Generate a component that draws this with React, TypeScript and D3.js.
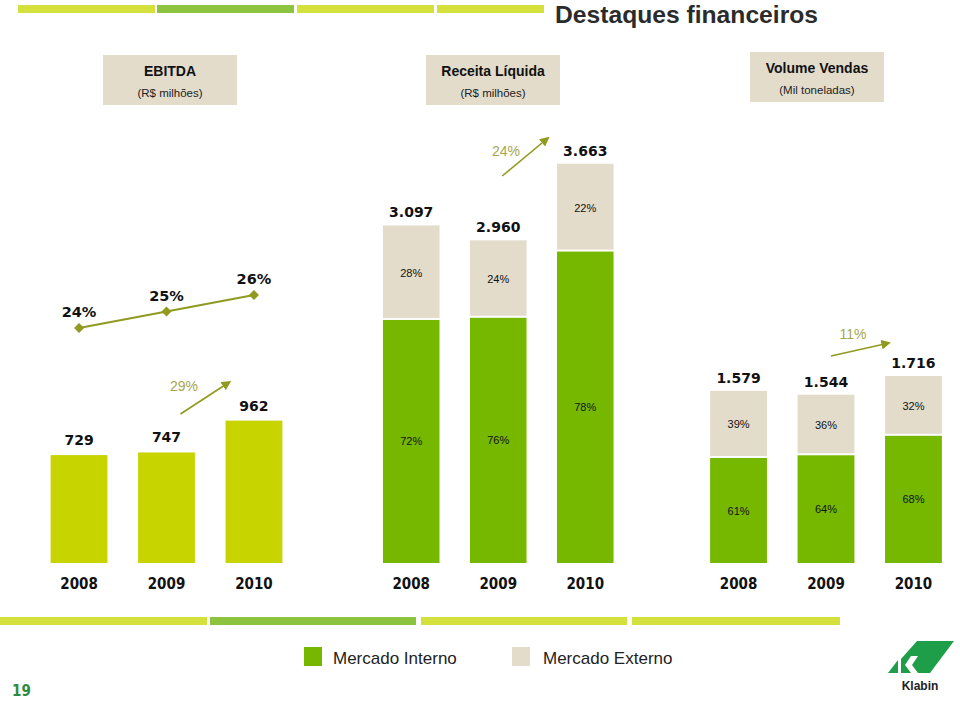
import React from "react";
import * as d3 from "d3";

const years = ["2008", "2009", "2010"];
const ebitdaValues = [729, 747, 962];
const ebitdaMargin = [24, 25, 26];
const receitaValues = [3097, 2960, 3663];
const receitaInternoPct = [72, 76, 78];
const volumeValues = [1579, 1544, 1716];
const volumeInternoPct = [61, 64, 68];
const growthLabels = ["29%", "24%", "11%"];
const panelTitles = ["EBITDA", "Receita Líquida", "Volume Vendas"];
const panelUnits = ["(R$ milhões)", "(R$ milhões)", "(Mil toneladas)"];
const legendLabels = ["Mercado Interno", "Mercado Externo"];
const titleText = "Destaques financeiros";
const pageNumber = "19";

const C_EBITDA = "#c8d400";
const C_INT = "#76b800";
const C_EXT = "#e3dccb";
const C_OLIVE = "#8f9a1f";
const C_GROWTH = "#a6a64e";
const C_BAR_LIGHT = "#d4e03c";
const C_BAR_DARK = "#8cc43f";

const ptBR = d3.formatLocale({ decimal: ",", thousands: ".", grouping: [3], currency: ["R$", ""] });
const fmt = ptBR.format(",d");

const BASE = 563;

export default function App() {
  const xE = d3.scaleBand<string>().domain(years).range([20, 313]).padding(0.35);
  const xR = d3.scaleBand<string>().domain(years).range([352.5, 644]).padding(0.35);
  const xV = d3.scaleBand<string>().domain(years).range([679.5, 972.5]).padding(0.35);
  const yE = d3.scaleLinear().domain([0, 1000]).range([BASE, BASE - 148]);
  const yRV = d3.scaleLinear().domain([0, 4000]).range([BASE, BASE - 436]);
  const yM = d3.scaleLinear().domain([20, 30]).range([394, 229]);

  const bw = xE.bandwidth();
  const cx = (s: d3.ScaleBand<string>, y: string) => (s(y) as number) + s.bandwidth() / 2;

  const marginLine = d3
    .line<number>()
    .x((_, i) => cx(xE, years[i]))
    .y((d) => yM(d));

  const stacked = (
    key: string,
    xs: d3.ScaleBand<string>,
    totals: number[],
    pcts: number[]
  ) =>
    years.map((yr, i) => {
      const total = totals[i];
      const intVal = (total * pcts[i]) / 100;
      const x = xs(yr) as number;
      const w = xs.bandwidth();
      const yTop = yRV(total);
      const ySplit = yRV(intVal);
      const c = x + w / 2;
      return (
        <g key={key + yr}>
          <rect x={x} y={ySplit} width={w} height={BASE - ySplit} fill={C_INT} />
          <rect x={x} y={yTop} width={w} height={ySplit - 2 - yTop} fill={C_EXT} />
          <text x={c} y={(ySplit + BASE) / 2 + 4} textAnchor="middle" fontFamily="Liberation Sans, Arial, sans-serif" fontSize={11} fill="#111">
            {pcts[i]}%
          </text>
          <text x={c} y={(yTop + ySplit) / 2 + 4} textAnchor="middle" fontFamily="Liberation Sans, Arial, sans-serif" fontSize={11} fill="#111">
            {100 - pcts[i]}%
          </text>
          <text x={c} y={yTop - 8} textAnchor="middle" fontFamily="DejaVu Sans, Verdana, sans-serif" fontWeight="bold" fontSize={14} fill="#111">
            {fmt(total)}
          </text>
        </g>
      );
    });

  const yearLabels = (key: string, xs: d3.ScaleBand<string>) =>
    years.map((yr) => (
      <text key={key + yr} x={cx(xs, yr)} y={589} textAnchor="middle" fontFamily="DejaVu Sans Condensed, DejaVu Sans, sans-serif" fontStretch="condensed" fontWeight="bold" fontSize={15} fill="#111">
        {yr}
      </text>
    ));

  const arrow = (x1: number, y1: number, x2: number, y2: number, id: string) => (
    <line x1={x1} y1={y1} x2={x2} y2={y2} stroke={C_OLIVE} strokeWidth={1.6} markerEnd={`url(#${id})`} />
  );

  const headerBoxes = [
    { x: 103, y: 55 },
    { x: 426, y: 55 },
    { x: 750, y: 52 },
  ];

  const topSegs = [
    [18, 155, C_BAR_LIGHT],
    [157, 294, C_BAR_DARK],
    [297, 434, C_BAR_LIGHT],
    [437, 544, C_BAR_LIGHT],
  ] as const;
  const botSegs = [
    [0, 207, C_BAR_LIGHT],
    [210, 416, C_BAR_DARK],
    [421, 627, C_BAR_LIGHT],
    [632, 840, C_BAR_LIGHT],
  ] as const;

  return (
    <svg width={960} height={701} style={{ position: "absolute", left: 0, top: 0, background: "#fff" }}>
      <defs>
        <marker id="arr" viewBox="0 0 10 10" refX="8" refY="5" markerWidth="6" markerHeight="6" orient="auto">
          <path d="M0,0 L10,5 L0,10 z" fill={C_OLIVE} />
        </marker>
      </defs>
      <rect width={960} height={701} fill="#fff" />

      {/* top decorative bars */}
      {topSegs.map(([a, b, c], i) => (
        <rect key={"t" + i} x={a} y={5} width={b - a} height={8} fill={c} />
      ))}
      <text x={555} y={23} fontFamily="Liberation Sans, Arial, sans-serif" fontWeight="bold" fontSize={24} fill="#2b2b2b" textLength={263} lengthAdjust="spacingAndGlyphs">
        {titleText}
      </text>

      {/* header boxes */}
      {headerBoxes.map((b, i) => (
        <g key={"h" + i}>
          <rect x={b.x} y={b.y} width={134} height={50} fill={C_EXT} />
          <text x={b.x + 67} y={b.y + 21} textAnchor="middle" fontFamily="Liberation Sans, Arial, sans-serif" fontWeight="bold" fontSize={14} fill="#111">
            {panelTitles[i]}
          </text>
          <text x={b.x + 67} y={b.y + 42} textAnchor="middle" fontFamily="Liberation Sans, Arial, sans-serif" fontSize={11.5} fill="#222">
            {panelUnits[i]}
          </text>
        </g>
      ))}

      {/* EBITDA bars */}
      {years.map((yr, i) => (
        <g key={"e" + yr}>
          <rect x={xE(yr)} y={yE(ebitdaValues[i])} width={bw} height={BASE - yE(ebitdaValues[i])} fill={C_EBITDA} />
          <text x={cx(xE, yr)} y={yE(ebitdaValues[i]) - 10} textAnchor="middle" fontFamily="DejaVu Sans, Verdana, sans-serif" fontWeight="bold" fontSize={14} fill="#111">
            {fmt(ebitdaValues[i])}
          </text>
        </g>
      ))}

      {/* EBITDA margin line */}
      <path d={marginLine(ebitdaMargin) || ""} fill="none" stroke={C_OLIVE} strokeWidth={2} />
      {ebitdaMargin.map((m, i) => {
        const x = cx(xE, years[i]);
        const y = yM(m);
        return (
          <g key={"m" + i}>
            <path d={`M${x},${y - 5} L${x + 5},${y} L${x},${y + 5} L${x - 5},${y} Z`} fill={C_OLIVE} />
            <text x={x} y={y - 11} textAnchor="middle" fontFamily="DejaVu Sans, Verdana, sans-serif" fontWeight="bold" fontSize={14.5} fill="#111">
              {m}%
            </text>
          </g>
        );
      })}

      {/* Receita & Volume stacked bars */}
      {stacked("r", xR, receitaValues, receitaInternoPct)}
      {stacked("v", xV, volumeValues, volumeInternoPct)}

      {/* growth arrows */}
      {arrow(cx(xE, "2009") + 14, 414, (xE("2010") as number) + 4, 382, "arr")}
      <text x={184} y={391} textAnchor="middle" fontFamily="Liberation Sans, Arial, sans-serif" fontSize={14} fill={C_GROWTH}>
        {growthLabels[0]}
      </text>
      {arrow(cx(xR, "2009") + 4, 176, (xR("2010") as number) - 9, 138, "arr")}
      <text x={506} y={156} textAnchor="middle" fontFamily="Liberation Sans, Arial, sans-serif" fontSize={14} fill={C_GROWTH}>
        {growthLabels[1]}
      </text>
      {arrow(cx(xV, "2009") + 5, 356, (xV("2010") as number) + 4, 343, "arr")}
      <text x={853} y={339} textAnchor="middle" fontFamily="Liberation Sans, Arial, sans-serif" fontSize={14} fill={C_GROWTH}>
        {growthLabels[2]}
      </text>

      {/* year labels */}
      {yearLabels("ye", xE)}
      {yearLabels("yr", xR)}
      {yearLabels("yv", xV)}

      {/* bottom decorative bars */}
      {botSegs.map(([a, b, c], i) => (
        <rect key={"b" + i} x={a} y={617} width={b - a} height={8} fill={c} />
      ))}

      {/* legend */}
      <rect x={304} y={647} width={18} height={19} fill={C_INT} />
      <text x={333} y={664} fontFamily="Liberation Sans, Arial, sans-serif" fontSize={17} fill="#222">
        {legendLabels[0]}
      </text>
      <rect x={512} y={647} width={18} height={19} fill={C_EXT} />
      <text x={543} y={664} fontFamily="Liberation Sans, Arial, sans-serif" fontSize={17} fill="#222">
        {legendLabels[1]}
      </text>

      {/* page number */}
      <text x={12} y={696} fontFamily="DejaVu Sans Condensed, DejaVu Sans, sans-serif" fontWeight="bold" fontSize={15} fill="#2e8b3e">
        {pageNumber}
      </text>

      {/* Klabin logo */}
      <g>
        <polygon points="917,641 954,641 930,673 901,673 901,659" fill="#1f9e4a" />
        <polygon points="911,656 918,656 912,665 918,673 911,673 905,665" fill="#fff" />
        <polygon points="888,673 898,660 898,673" fill="#1f9e4a" />
        <text x={920} y={690} textAnchor="middle" fontFamily="Liberation Sans, Arial, sans-serif" fontWeight="bold" fontSize={12} fill="#222">
          Klabin
        </text>
      </g>
    </svg>
  );
}
